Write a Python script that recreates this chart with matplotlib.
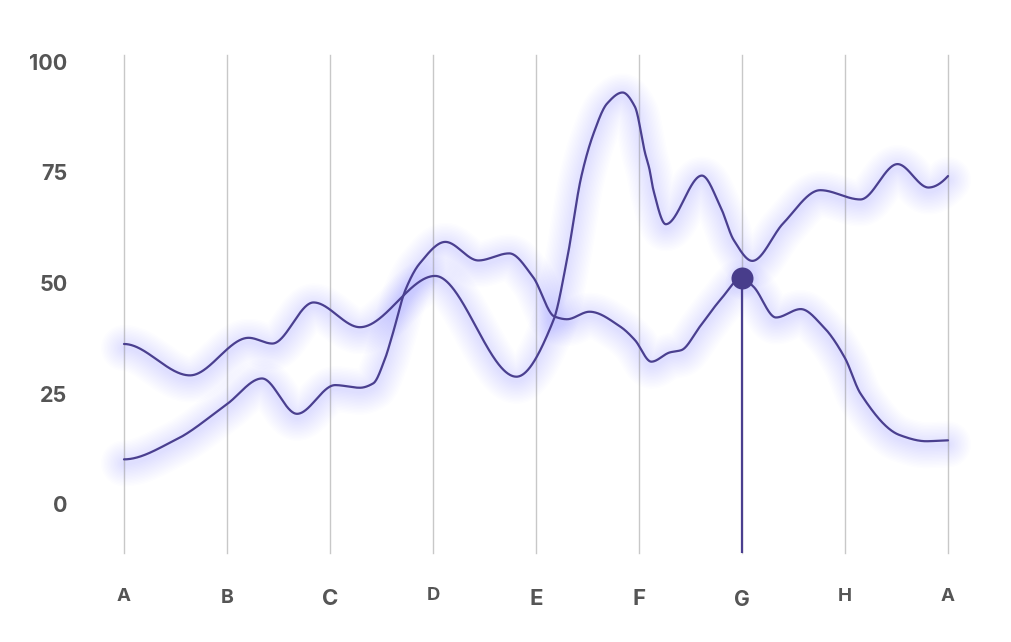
import numpy as np
import matplotlib
matplotlib.use('Agg')
import matplotlib.pyplot as plt
import matplotlib.transforms as mtransforms

# ---------------- data ----------------
categories = ['A', 'B', 'C', 'D', 'E', 'F', 'G', 'H', 'A']
y_ticks = [0, 25, 50, 75, 100]

# series 1 (starts at ~36)
s1_x = [0.00, 0.64, 1.21, 1.44, 1.84, 2.29, 3.02, 3.81, 4.17, 4.30, 4.44, 4.56, 4.69, 4.84,
        4.96, 5.06, 5.10, 5.14, 5.26, 5.61, 5.79, 5.92, 6.10, 6.40, 6.76, 7.15,
        7.51, 7.81, 8.00]
s1_y = [36.2, 29.1, 37.6, 36.3, 45.6, 40.0, 51.6, 28.8, 41.6, 55.2, 74.1, 83.9, 90.6, 93.1,
        89.9, 79.3, 75.9, 71.0, 63.3, 74.3, 67.3, 59.7, 55.0, 63.5, 71.0, 68.9,
        76.9, 71.6, 74.2]

# series 2 (starts at ~10)
s2_x = [0.00, 0.50, 1.00, 1.34, 1.68, 2.05, 2.29, 2.42, 2.53, 2.61, 2.73, 2.87, 3.12,
        3.44, 3.74, 3.97, 4.18, 4.30, 4.52, 4.82, 4.96, 5.12, 5.30, 5.41, 5.59,
        5.79, 6.00, 6.11, 6.33, 6.57, 6.79, 7.00, 7.15, 7.53, 7.79, 8.00]
s2_y = [10.1, 14.5, 22.6, 28.4, 20.4, 26.9, 26.3, 27.3, 32.6, 38.6, 48.3, 54.4, 59.3,
        55.1, 56.7, 51.4, 42.4, 41.8, 43.5, 40.1, 37.1, 32.2, 34.3, 34.8, 40.1,
        46.2, 51.1, 49.2, 42.2, 44.1, 40.1, 33.0, 25.0, 15.6, 14.2, 14.4]

highlight_x = 6      # category "G"
highlight_y = 51.1

# ---------------- helpers ----------------
def pchip(x, y, xn, flat_start=False, flat_end=False):
    x = np.asarray(x, float); y = np.asarray(y, float)
    h = np.diff(x); d = np.diff(y) / h
    n = len(x); m = np.zeros(n)
    for k in range(1, n - 1):
        if d[k - 1] * d[k] > 0:
            w1 = 2 * h[k] + h[k - 1]; w2 = h[k] + 2 * h[k - 1]
            m[k] = (w1 + w2) / (w1 / d[k - 1] + w2 / d[k])
    def end(h0, h1, d0, d1):
        mm = ((2 * h0 + h1) * d0 - h0 * d1) / (h0 + h1)
        if np.sign(mm) != np.sign(d0):
            mm = 0.0
        elif np.sign(d0) != np.sign(d1) and abs(mm) > abs(3 * d0):
            mm = 3 * d0
        return mm
    m[0] = 0.0 if flat_start else end(h[0], h[1], d[0], d[1])
    m[-1] = 0.0 if flat_end else end(h[-1], h[-2], d[-1], d[-2])
    idx = np.clip(np.searchsorted(x, xn) - 1, 0, n - 2)
    t = (xn - x[idx]) / h[idx]
    h00 = 2 * t**3 - 3 * t**2 + 1
    h10 = t**3 - 2 * t**2 + t
    h01 = -2 * t**3 + 3 * t**2
    h11 = t**3 - t**2
    return h00 * y[idx] + h10 * h[idx] * m[idx] + h01 * y[idx + 1] + h11 * h[idx] * m[idx + 1]

W, H = 1012, 642
fig = plt.figure(figsize=(W / 100, H / 100), dpi=100)
fig.patch.set_facecolor('white')

px_left, px_right, px_top, px_bottom = 124, 948, 55, 553
ax = fig.add_axes([px_left / W, (H - px_bottom) / H,
                   (px_right - px_left) / W, (px_bottom - px_top) / H])
y0_px, unit_px = 504, 4.42
ax.set_xlim(0, 8)
ax.set_ylim((y0_px - px_bottom) / unit_px, (y0_px - px_top) / unit_px)
for s in ax.spines.values():
    s.set_visible(False)
ax.set_facecolor('none')

line_color = '#4a3f8f'
grid_color = '#c8c8c8'
text_color = '#555555'
font = ['Inter', 'Open Sans', 'DejaVu Sans']

# grid lines
for i in range(len(categories)):
    ax.axvline(i, color=grid_color, lw=1.0, zorder=0, clip_on=False)

xs = np.linspace(0, 8, 2000)
curves = [
    pchip(s1_x, s1_y, xs, flat_start=True, flat_end=False),
    pchip(s2_x, s2_y, xs, flat_start=True, flat_end=True),
]

glow_tr = mtransforms.offset_copy(ax.transData, fig=fig, x=0, y=-4, units='dots')
for ys in curves:
    for lw_px in np.linspace(3, 46, 16):
        ax.plot(xs, ys, color='#7878ff', lw=lw_px * 0.72, alpha=0.011,
                solid_capstyle='round', transform=glow_tr, zorder=1, clip_on=False)
for ys in curves:
    ax.plot(xs, ys, color=line_color, lw=1.6, zorder=3, clip_on=False,
            solid_capstyle='round')

# highlight
ax.vlines(highlight_x, ax.get_ylim()[0], highlight_y, color=line_color, lw=1.6, zorder=3)
for r in np.linspace(14, 34, 6):
    ax.scatter([highlight_x], [highlight_y], s=(r * 0.72) ** 2, color='#7878ff',
               alpha=0.018, zorder=2, linewidths=0, transform=glow_tr)
ax.scatter([highlight_x], [highlight_y], s=(22 * 0.72) ** 2, color='#483d8b',
           zorder=5, linewidths=0)

# y tick labels
ax.set_yticks(y_ticks)
ax.set_yticklabels([str(v) for v in y_ticks], fontsize=15.5, fontweight='bold',
                   color=text_color, family=font)
ax.tick_params(axis='y', length=0, pad=(px_left - 67.5) * 0.72)
ax.set_xticks([])

# x labels
lab_sizes = [13.5, 14, 16, 13.2, 16, 16, 15, 13.5, 13.5]
lab_ypx = [596.7, 598.3, 599, 596, 599, 599, 599.7, 596.7, 596.7]
tr = mtransforms.blended_transform_factory(ax.transData, ax.transAxes)
for i, lab in enumerate(categories):
    yf = (px_bottom - lab_ypx[i]) / (px_bottom - px_top)
    ax.text(i, yf, lab, transform=tr, ha='center', va='center',
            fontsize=lab_sizes[i], fontweight='bold', color=text_color,
            family=font)

fig.savefig('out.png', dpi=100, facecolor='white')
